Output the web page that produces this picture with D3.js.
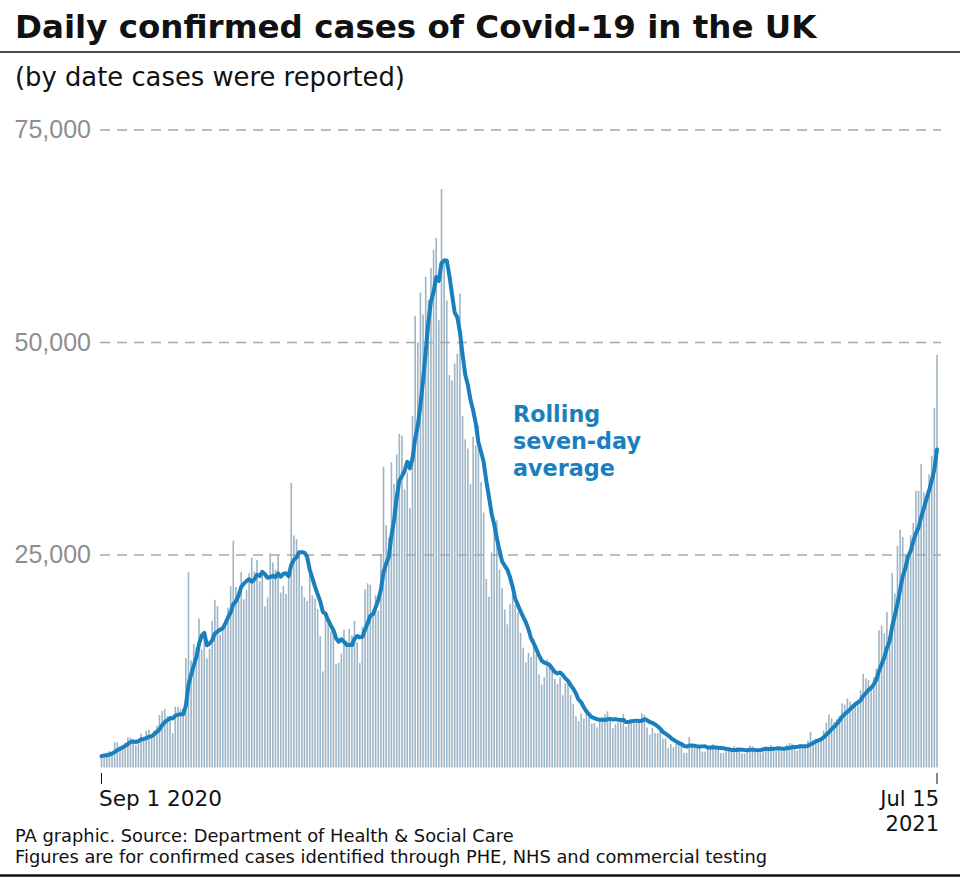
<!DOCTYPE html>
<html>
<head>
<meta charset="utf-8">
<script src="https://cdn.jsdelivr.net/npm/d3@7"></script>
<style>
  body { margin: 0; background: #fff; }
  svg { display: block; }
  text { font-family: "DejaVu Sans", sans-serif; }
</style>
</head>
<body>
<div id="chart"></div>
<script>
// daily reported cases (Aug tail only feeds the rolling average)
var augTail = [1048, 1522, 1276, 1108, 1715, 1406];
var sep2020 = [1295, 1508, 1735, 1940, 1813, 2988, 2948, 2460, 2659, 2919, 3539, 3497, 3330, 2621, 3105,
               3991, 3395, 4322, 4422, 3899, 4368, 4926, 6178, 6634, 6874, 6042, 5693, 4044, 7143, 7108];
var oct2020 = [6914, 6968, 12872, 22961, 12594, 14542, 14162, 17540, 13864, 15166, 12847, 13972, 17234, 19724, 18980,
               15650, 16171, 16982, 18804, 21331, 26688, 21242, 20530, 23012, 19790, 20890, 22885, 24701, 23065, 24405, 21915];
var nov2020 = [23254, 18950, 20018, 25177, 24141, 23287, 24957, 20572, 21350, 20412, 22950, 33470, 27301, 26860, 24962,
               21363, 20051, 19609, 22915, 20252, 19875, 18662, 15450, 11299, 18213, 17555, 16022, 15871, 12155, 12330];
var dec2020 = [13430, 16170, 14879, 16298, 15539, 17272, 14718, 12282, 16578, 20964, 21672, 21502, 18447, 20263, 18450,
               25161, 35383, 28507, 27052, 35928, 33364, 36804, 39237, 39036, 32725, 34693, 30501, 41385, 53135, 50023, 55892];
var jan2021 = [53285, 57725, 54990, 58784, 60916, 62322, 52618, 68053, 59937, 54940, 46165, 45533, 47525, 48682, 55761,
               41346, 38598, 37535, 33355, 38905, 37892, 40261, 33552, 30004, 22195, 20089, 25308, 28680, 29079, 23275, 21088];
var feb2021 = [18607, 16840, 19202, 20634, 19114, 18262, 15845, 14104, 12364, 13494, 13013, 15144, 13308, 10972,
               9765, 10625, 12718, 12057, 12027, 10406, 9834, 10641, 8489, 9938, 9985, 8523, 7434, 6035];
var mar2021 = [5455, 6391, 5766, 6573, 6040, 5177, 5213, 4712, 5766, 5926, 6305, 6609, 5534, 4618, 5089,
               5294, 5758, 6303, 4802, 5587, 5312, 5342, 5379, 5605, 6397, 6187, 4715, 3862, 4654, 4052, 4040];
var apr2021 = [4479, 3402, 3423, 2297, 2762, 2379, 2763, 3150, 2729, 1730, 1718, 3568, 2472, 2491, 2672,
               2596, 1882, 1865, 2524, 2396, 2729, 2470, 2381, 1712, 1690, 1985, 2064, 2166, 2490, 2381];
var may2021 = [1963, 1671, 1649, 1946, 2613, 2490, 2047, 1770, 1742, 2357, 2474, 2284, 2657, 2193, 1926,
               1979, 1926, 2412, 2696, 2874, 2829, 2235, 1979, 2439, 2493, 2613, 3180, 4182, 3240, 3398, 3165];
var jun2021 = [3383, 4330, 5274, 6238, 5765, 5341, 5683, 6048, 7540, 7393, 8125, 7738, 7490, 7742, 7673,
               9055, 11007, 10476, 10321, 9284, 10633, 11625, 16135, 16703, 15810, 18270, 14876, 22868, 20479, 26068];
var jul2021 = [27989, 27125, 24885, 24248, 27334, 28773, 32548, 32551, 35707, 32367, 31772, 34471, 36660, 42302, 48553];

var yTicks = [25000, 50000, 75000];
var startLabel = ["Sep 1 2020"];
var endLabel = ["Jul 15", "2021"];

var cases = [].concat(sep2020, oct2020, nov2020, dec2020, jan2021, feb2021,
                      mar2021, apr2021, may2021, jun2021, jul2021);
var withTail = augTail.concat(cases);

// trailing seven-day mean for each plotted day
var rolling = cases.map(function (d, i) {
    return d3.mean(withTail.slice(i, i + 7));
});

var width = 960, height = 879;
var blue = "#1a80bd";

var svg = d3.select("#chart").append("svg")
    .attr("width", width)
    .attr("height", height);

var x = d3.scaleLinear().domain([0, cases.length - 1]).range([101.5, 937]);
var y = d3.scaleLinear().domain([0, 75000]).range([767.5, 130]);

// scale a text's font so that one of its lines (or itself) spans w pixels
function fit(sel, w, line) {
    var cur = (line || sel).node().getComputedTextLength();
    var fs = parseFloat(sel.style("font-size"));
    sel.style("font-size", (fs * w / cur) + "px");
    return sel;
}

// header
fit(svg.append("text")
    .attr("x", 15).attr("y", 38)
    .style("font-size", "32px").style("font-weight", "bold").attr("fill", "#111")
    .text("Daily confirmed cases of Covid-19 in the UK"), 802);

svg.append("line")
    .attr("x1", 0).attr("x2", width)
    .attr("y1", 52).attr("y2", 52)
    .attr("stroke", "#111").attr("stroke-width", 1.5);

fit(svg.append("text")
    .attr("x", 15).attr("y", 86)
    .style("font-size", "25px").attr("fill", "#111")
    .text("(by date cases were reported)"), 390);

// bars
svg.append("g").selectAll("rect")
    .data(cases)
    .enter().append("rect")
    .attr("x", function (d, i) { return x(i) - 0.8; })
    .attr("y", function (d) { return y(d); })
    .attr("width", 1.6)
    .attr("height", function (d) { return y(0) - y(d); })
    .attr("fill", "#9db5c6");

// dashed gridlines sit over the bars
svg.append("g").selectAll("line")
    .data(yTicks)
    .enter().append("line")
    .attr("x1", 100).attr("x2", 941)
    .attr("y1", function (d) { return y(d); })
    .attr("y2", function (d) { return y(d); })
    .attr("stroke", "#a8a8a8")
    .attr("stroke-width", 1.5)
    .attr("stroke-dasharray", "10 7");

svg.append("g").selectAll("text")
    .data(yTicks)
    .enter().append("text")
    .attr("x", 91)
    .attr("y", function (d) { return y(d) + 8; })
    .attr("text-anchor", "end")
    .style("font-family", "'Liberation Sans', sans-serif")
    .style("font-size", "25px")
    .attr("fill", "#8e8e8e")
    .text(function (d) { return d3.format(",")(d); });

// rolling average line
svg.append("path")
    .datum(rolling)
    .attr("fill", "none")
    .attr("stroke", blue)
    .attr("stroke-width", 4)
    .attr("stroke-linejoin", "round")
    .attr("stroke-linecap", "round")
    .attr("d", d3.line()
        .x(function (d, i) { return x(i); })
        .y(function (d) { return y(d); }));

var labelLines = ["Rolling", "seven-day", "average"];
var lbl = svg.append("text")
    .attr("x", 513).attr("y", 422)
    .style("font-size", "22px").style("font-weight", "bold")
    .attr("fill", blue);
var lblSpans = lbl.selectAll("tspan")
    .data(labelLines)
    .enter().append("tspan")
    .attr("x", 513)
    .attr("dy", function (d, i) { return i ? 27 : 0; })
    .text(function (d) { return d; });
fit(lbl, 128, lblSpans.filter(function (d, i) { return i === 1; }));

// x axis end ticks and labels
svg.append("g").selectAll("line")
    .data([0, cases.length - 1])
    .enter().append("line")
    .attr("x1", function (d) { return x(d); })
    .attr("x2", function (d) { return x(d); })
    .attr("y1", 773).attr("y2", 784)
    .attr("stroke", "#111").attr("stroke-width", 1);

fit(svg.append("text")
    .attr("x", 99).attr("y", 806)
    .style("font-size", "20px").attr("fill", "#111")
    .text(startLabel[0]), 123);

var endTxt = svg.append("text")
    .attr("text-anchor", "end")
    .style("font-size", "21px").attr("fill", "#111");
endTxt.selectAll("tspan")
    .data(endLabel)
    .enter().append("tspan")
    .attr("x", 939)
    .attr("y", function (d, i) { return 806 + i * 25; })
    .text(function (d) { return d; });

// footer
var foot = svg.append("text")
    .attr("x", 15)
    .style("font-size", "16px").attr("fill", "#111");
foot.append("tspan").attr("x", 15).attr("y", 842)
    .text("PA graphic. Source: Department of Health & Social Care");
var footLong = foot.append("tspan").attr("x", 15).attr("y", 863)
    .text("Figures are for confirmed cases identified through PHE, NHS and commercial testing");
fit(foot, 753, footLong);

svg.append("line")
    .attr("x1", 0).attr("x2", width)
    .attr("y1", 875.5).attr("y2", 875.5)
    .attr("stroke", "#111").attr("stroke-width", 2.5);
</script>
</body>
</html>
